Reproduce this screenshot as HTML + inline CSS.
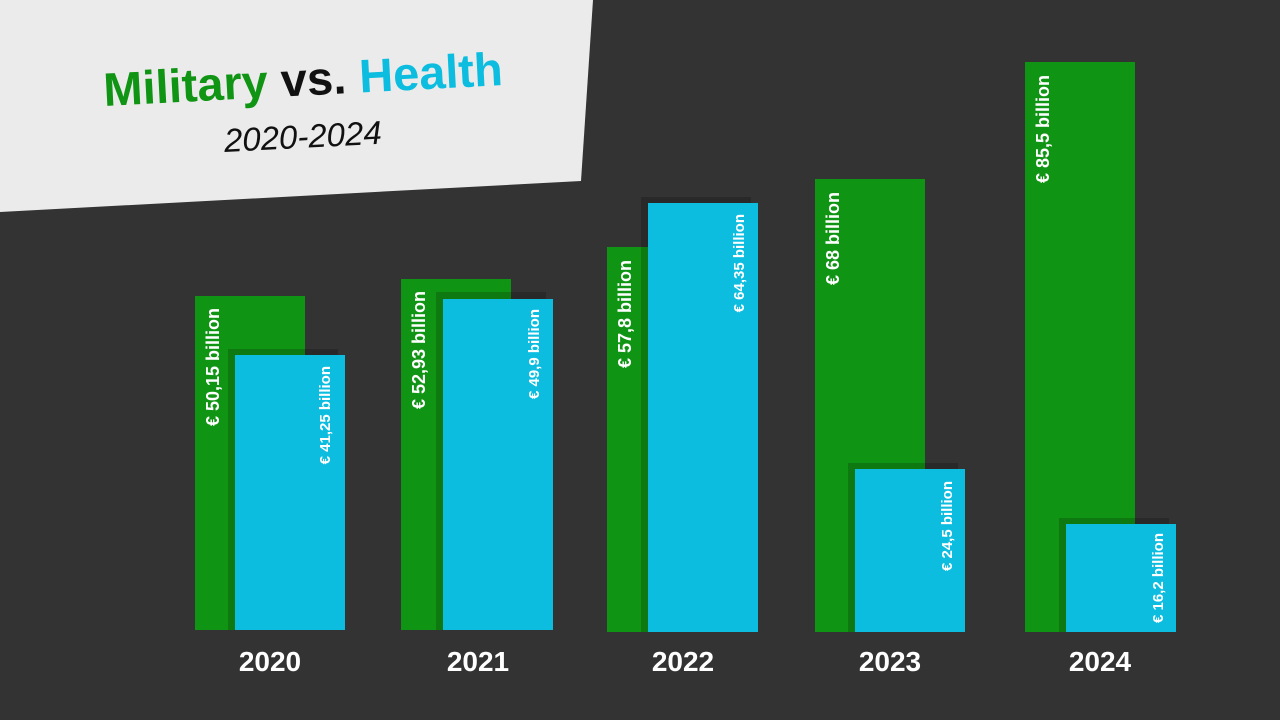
<!DOCTYPE html>
<html><head><meta charset="utf-8"><style>
html,body{margin:0;padding:0}
body{width:1280px;height:720px;background:#333333;position:relative;overflow:hidden;font-family:"Liberation Sans",sans-serif}
.b{position:absolute}
.g{background:#109414}
.c{background:#0dbde0}
.s{background:rgba(0,0,0,0.18)}
.l{position:absolute;writing-mode:vertical-rl;transform:rotate(180deg);color:#fff;font-weight:bold;white-space:nowrap;line-height:1}
.lg{font-size:18px}
.lc{font-size:15px}
.y{position:absolute;top:646px;width:160px;text-align:center;color:#fff;font-weight:bold;font-size:28px}
</style></head><body>
<svg class="b" style="left:0;top:0" width="600" height="220"><polygon points="0,0 593,0 581,181 0,212" fill="#ebebeb"/></svg>
<div class="b" style="left:102px;top:62px;transform:rotate(-3deg);transform-origin:left top;font-weight:bold;font-size:47px;white-space:nowrap"><span style="color:#109414">Military</span> <span style="color:#111">vs.</span> <span style="color:#0dbde0">Health</span></div>
<div class="b" style="left:223px;top:122px;transform:rotate(-3deg);transform-origin:left top;font-style:italic;font-size:33px;color:#111">2020-2024</div>

<!-- 2020 -->
<div class="b g" style="left:195px;top:296px;width:110px;height:334px"></div>
<div class="b s" style="left:228px;top:349px;width:110px;height:281px"></div>
<div class="b c" style="left:235px;top:355px;width:110px;height:275px"></div>
<div class="l lg" style="left:204px;top:308px">€ 50,15 billion</div>
<div class="l lc" style="left:318px;top:366px">€ 41,25 billion</div>
<div class="y" style="left:190px">2020</div>

<!-- 2021 -->
<div class="b g" style="left:401px;top:279px;width:110px;height:351px"></div>
<div class="b s" style="left:436px;top:292px;width:110px;height:338px"></div>
<div class="b c" style="left:443px;top:299px;width:110px;height:331px"></div>
<div class="l lg" style="left:410px;top:291px">€ 52,93 billion</div>
<div class="l lc" style="left:527px;top:309px">€ 49,9 billion</div>
<div class="y" style="left:398px">2021</div>

<!-- 2022 -->
<div class="b g" style="left:607px;top:247px;width:110px;height:385px"></div>
<div class="b s" style="left:641px;top:197px;width:110px;height:435px"></div>
<div class="b c" style="left:648px;top:203px;width:110px;height:429px"></div>
<div class="l lg" style="left:616px;top:260px">€ 57,8 billion</div>
<div class="l lc" style="left:732px;top:214px">€ 64,35 billion</div>
<div class="y" style="left:603px">2022</div>

<!-- 2023 -->
<div class="b g" style="left:815px;top:179px;width:110px;height:453px"></div>
<div class="b s" style="left:848px;top:463px;width:110px;height:169px"></div>
<div class="b c" style="left:855px;top:469px;width:110px;height:163px"></div>
<div class="l lg" style="left:824px;top:192px">€ 68 billion</div>
<div class="l lc" style="left:940px;top:481px">€ 24,5 billion</div>
<div class="y" style="left:810px">2023</div>

<!-- 2024 -->
<div class="b g" style="left:1025px;top:62px;width:110px;height:570px"></div>
<div class="b s" style="left:1059px;top:518px;width:110px;height:114px"></div>
<div class="b c" style="left:1066px;top:524px;width:110px;height:108px"></div>
<div class="l lg" style="left:1034px;top:75px">€ 85,5 billion</div>
<div class="l lc" style="left:1151px;top:533px">€ 16,2 billion</div>
<div class="y" style="left:1020px">2024</div>
</body></html>
